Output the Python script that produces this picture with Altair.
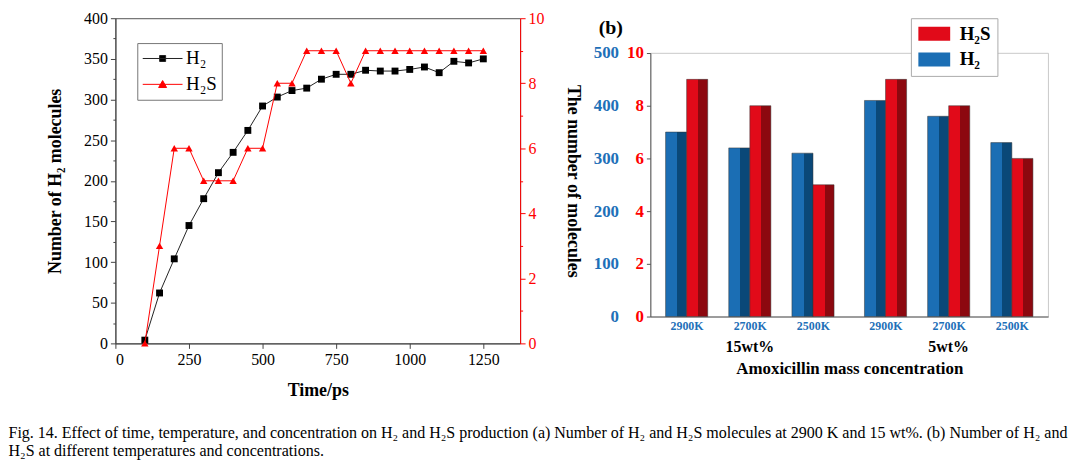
import altair as alt
import pandas as pd

FONT = "Liberation Serif"

# ---------------- Panel (a) data ----------------
time_ps = [100, 150, 200, 250, 300, 350, 400, 450, 500, 550, 600, 650,
           700, 750, 800, 850, 900, 950, 1000, 1050, 1100, 1150, 1200, 1250]
h2_count = [4, 62, 104, 145, 178, 210, 235, 262, 292, 303, 311, 314,
            325, 331, 331, 336, 335, 335, 337, 340, 333, 347, 345, 350]
h2s_count = [0, 3, 6, 6, 5, 5, 5, 6, 6, 8, 8, 9,
             9, 9, 8, 9, 9, 9, 9, 9, 9, 9, 9, 9]

x_ticks = [0, 250, 500, 750, 1000, 1250]
y_left_ticks = list(range(0, 401, 50))
y_left_minor = list(range(25, 400, 50))
y_right_ticks = [0, 2, 4, 6, 8, 10]
y_right_minor = [1, 3, 5, 7, 9]
series_a = ["H₂", "H₂S"]

# ---------------- Panel (b) data ----------------
b_conc = ["15wt%", "15wt%", "15wt%", "5wt%", "5wt%", "5wt%"]
b_temp = ["2900K", "2700K", "2500K", "2900K", "2700K", "2500K"]
b_h2 = [350, 320, 310, 410, 380, 330]
b_h2s = [9, 8, 5, 9, 8, 6]
conc_order = ["15wt%", "5wt%"]
slot_order = ["2900K|H₂", "2900K|H₂S", "gap1", "2700K|H₂", "2700K|H₂S", "gap2",
              "2500K|H₂", "2500K|H₂S"]
series_b = ["H₂S", "H₂"]
panel_b_label = ["(b)"]

df_a = pd.DataFrame({"time": time_ps, "h2": h2_count, "h2s": h2s_count})
df_b = pd.DataFrame({"conc": b_conc, "temp": b_temp, "h2": b_h2, "h2s": b_h2s})

AX = "#444444"
RED = "#ff0000"

x_scale = alt.Scale(domain=[0, 1375], nice=False, zero=False)
yl_scale = alt.Scale(domain=[0, 400], nice=False)
yr_scale = alt.Scale(domain=[0, 10], nice=False)

base_a = alt.Chart(df_a)

x_main = alt.X("time:Q", scale=x_scale,
               axis=alt.Axis(values=x_ticks, title="Time/ps", format="d",
                             labelFont=FONT, labelFontSize=16, labelColor="black",
                             titleFont=FONT, titleFontSize=18, titleFontWeight="bold",
                             titleColor="black", titlePadding=14,
                             tickColor=AX, domainColor=AX, tickSize=5,
                             labelPadding=3, grid=False))

h2_line = base_a.mark_line(color="#222222", strokeWidth=1).encode(
    x=x_main,
    y=alt.Y("h2:Q", scale=yl_scale,
            axis=alt.Axis(values=y_left_ticks, orient="left",
                          title="Number of H₂ molecules",
                          labelFont=FONT, labelFontSize=16, labelColor="black",
                          titleFont=FONT, titleFontSize=18, titleFontWeight="bold",
                          titleColor="black", titlePadding=19,
                          tickColor=AX, domainColor=AX, tickSize=5,
                          labelPadding=3, grid=False)))
h2_pts = base_a.mark_point(shape="square", filled=True, color="black",
                           size=48, opacity=1).encode(
    x=x_main, y=alt.Y("h2:Q", scale=yl_scale, axis=None))

h2s_line = base_a.mark_line(color=RED, strokeWidth=1).encode(
    x=x_main,
    y=alt.Y("h2s:Q", scale=yr_scale,
            axis=alt.Axis(values=y_right_ticks, orient="right",
                          title="The number of molecules",
                          labelFont=FONT, labelFontSize=16, labelColor=RED,
                          titleFont=FONT, titleFontSize=18, titleFontWeight="bold",
                          titleColor="black", titlePadding=20,
                          tickColor=RED, domainColor=RED, tickSize=5,
                          labelPadding=3, grid=False)))
h2s_pts = base_a.mark_point(shape="triangle-up", filled=True, color=RED,
                            size=55, opacity=1).encode(
    x=x_main, y=alt.Y("h2s:Q", scale=yr_scale, axis=None))

minor_left = base_a.mark_point(opacity=0).encode(
    x=x_main,
    y=alt.Y("h2:Q", scale=yl_scale,
            axis=alt.Axis(orient="left", values=y_left_minor, labels=False,
                          tickSize=2.5, domain=False, title=None, grid=False,
                          tickColor=AX)))
minor_right = base_a.mark_point(opacity=0).encode(
    x=x_main,
    y=alt.Y("h2s:Q", scale=yr_scale,
            axis=alt.Axis(orient="right", values=y_right_minor, labels=False,
                          tickSize=2.5, domain=False, title=None, grid=False,
                          tickColor=RED)))

path_sq = "M-1,0H3M0.7,-0.3H1.3V0.3H0.7Z"
path_tri = "M-1,0H3M1,-0.38L1.4,0.32H0.6Z"
leg_a = alt.Legend(orient="none", legendX=22, legendY=25, title=None,
                   labelFont=FONT, labelFontSize=19, labelColor="black",
                   symbolSize=400, symbolStrokeWidth=1, strokeColor="#777777",
                   fillColor="white", padding=5, rowPadding=5, labelOffset=23)
legend_layer_a = base_a.transform_calculate(sa="'H₂'").transform_filter(
    "datum.time < 0").mark_point(filled=True, opacity=1, strokeWidth=1).encode(
    x=x_main,
    fill=alt.Fill("sa:N", scale=alt.Scale(domain=series_a, range=["black", RED]),
                  legend=leg_a),
    stroke=alt.Stroke("sa:N", scale=alt.Scale(domain=series_a, range=["#222222", RED]),
                      legend=leg_a),
    shape=alt.Shape("sa:N", scale=alt.Scale(domain=series_a, range=[path_sq, path_tri]),
                    legend=leg_a))

panel_a = alt.layer(h2_line, h2_pts, h2s_line, h2s_pts, minor_left, minor_right,
                    legend_layer_a).resolve_scale(y="independent").properties(
    width=407, height=327,
    view=alt.ViewBackground(stroke="#555555", strokeWidth=1))

# ---------------- Panel (b) ----------------
BLUE_F = "#1b6eb4"
BLUE_S = "#0a4878"
RED_F = "#e10a19"
RED_S = "#8c080f"
BLUE_T = "#1e70b8"


def face_gradient(front, side):
    return alt.Gradient(gradient="linear", x1=0, x2=1, y1=0, y2=0,
                        stops=[alt.GradientStop(color=front, offset=0),
                               alt.GradientStop(color=front, offset=0.55),
                               alt.GradientStop(color=side, offset=0.55),
                               alt.GradientStop(color=side, offset=1)])


base_b = alt.Chart(df_b).transform_calculate(
    k1="datum.temp + '|H₂'", k2="datum.temp + '|H₂S'", zero="0")
xb_scale = alt.Scale(domain=conc_order, paddingInner=0.1, paddingOuter=0.05)
xb = alt.X("conc:N", scale=xb_scale, sort=conc_order,
           axis=alt.Axis(title="Amoxicillin mass concentration", labelAngle=0,
                         labelFont=FONT, labelFontSize=16, labelFontWeight="bold",
                         labelColor="black", labelPadding=22, ticks=False,
                         domainColor="#555555", titleFont=FONT, titleFontSize=17,
                         titleFontWeight="bold", titleColor="black", titlePadding=6))
xo_scale = alt.Scale(domain=slot_order, paddingInner=0, paddingOuter=0.25)
yb_h2_scale = alt.Scale(domain=[0, 500], nice=False)
yb_h2s_scale = alt.Scale(domain=[0, 10], nice=False)

h2_bar = base_b.mark_bar(color=face_gradient(BLUE_F, BLUE_S), stroke="#333333",
                         strokeWidth=0.5).encode(
    x=xb, xOffset=alt.XOffset("k1:N", scale=xo_scale),
    y=alt.Y("h2:Q", scale=yb_h2_scale,
            axis=alt.Axis(orient="left", offset=30, values=[0, 100, 200, 300, 400, 500],
                          domain=False, ticks=False, grid=False, title=None,
                          labelFont=FONT, labelFontSize=17, labelFontWeight="bold",
                          labelColor=BLUE_T, labelPadding=2)))
h2s_bar = base_b.mark_bar(color=face_gradient(RED_F, RED_S), stroke="#333333",
                          strokeWidth=0.5).encode(
    x=xb, xOffset=alt.XOffset("k2:N", scale=xo_scale),
    y=alt.Y("h2s:Q", scale=yb_h2s_scale,
            axis=alt.Axis(orient="left", offset=0, values=y_right_ticks,
                          domainColor="#555555", tickColor="#555555", tickSize=4,
                          grid=False, title=None,
                          labelFont=FONT, labelFontSize=17, labelFontWeight="bold",
                          labelColor=RED, labelPadding=3)))
temp_text = base_b.mark_text(font=FONT, fontSize=12, fontWeight="bold", color=BLUE_T,
                             baseline="top", dy=5, dx=11).encode(
    x=xb, xOffset=alt.XOffset("k1:N", scale=xo_scale),
    y=alt.Y("zero:Q", scale=yb_h2_scale, axis=None),
    text="temp:N")

path_rect = "M-1,-0.88H3V0.88H-1Z"
leg_b = alt.Legend(orient="none", legendX=262, legendY=0, title=None,
                   labelFont=FONT, labelFontSize=19, labelFontWeight="bold",
                   labelColor="black", symbolType=path_rect, symbolSize=256,
                   symbolStrokeWidth=0, strokeColor="#aaaaaa", fillColor="white",
                   padding=6, rowPadding=6, labelOffset=24)
legend_layer_b = base_b.transform_calculate(sb="'H₂'").transform_filter(
    "datum.h2 < 0").mark_point(filled=True, opacity=1, strokeWidth=0,
                               shape=path_rect).encode(
    x=xb,
    fill=alt.Fill("sb:N", scale=alt.Scale(domain=series_b, range=[RED_F, BLUE_F]),
                  legend=leg_b))

plot_b = alt.layer(h2_bar, h2s_bar, temp_text, legend_layer_b).resolve_scale(
    y="independent").properties(
    width=400, height=265,
    view=alt.ViewBackground(stroke="#bbbbbb", strokeWidth=0.8))

label_b = alt.Chart(pd.DataFrame({"lab": panel_b_label})).mark_text(
    font=FONT, fontSize=20, fontWeight="bold", color="black",
    align="left", baseline="top", dx=-52).encode(
    x=alt.value(0), y=alt.value(0), text="lab:N").properties(
    width=400, height=1, view=alt.ViewBackground(stroke=None))

panel_b = alt.vconcat(label_b, plot_b, spacing=5)

caption = [
    "Fig. 14.  Effect of time, temperature, and concentration on H₂ and H₂S production (a) Number of H₂ and H₂S molecules at 2900 K and 15 wt%. (b) Number of H₂ and",
    "H₂S at different temperatures and concentrations.",
]

chart = alt.hconcat(panel_a, panel_b, spacing=10).resolve_scale(
    fill="independent", stroke="independent", shape="independent").properties(
    padding=0,
    title=alt.TitleParams(caption, orient="bottom", anchor="start", font=FONT,
                          fontSize=16.1, fontWeight="normal", color="black",
                          lineHeight=18, offset=26, dx=-38)
).configure(background="white")

chart.save("out.html", embed_options={"renderer": "svg", "actions": False})
